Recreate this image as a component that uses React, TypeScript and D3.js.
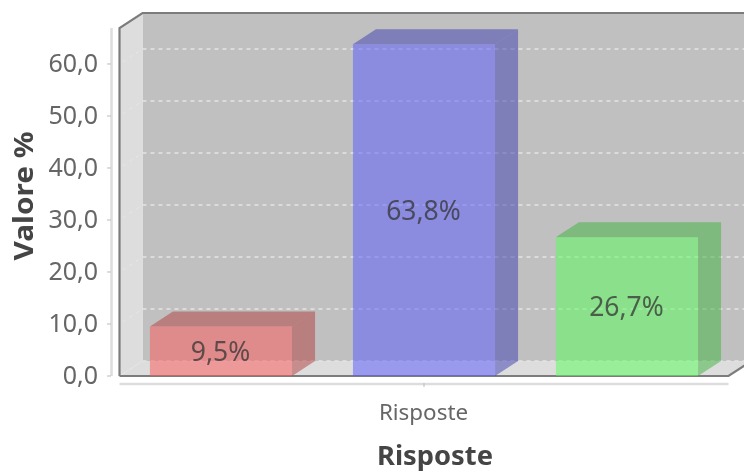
import React from "react";
import * as d3 from "d3";

const seriesNames = ["Serie 1", "Serie 2", "Serie 3"];
const seriesValues = [9.5, 63.8, 26.7];
const valueLabels = ["9,5%", "63,8%", "26,7%"];
const faceColors = ["#ff5555", "#5555ff", "#55ff55"];
const shadeColors = ["#b23b3b", "#3b3bb2", "#3bb23b"];
const yTicks = [0, 10, 20, 30, 40, 50, 60];
const categoryLabel = "Risposte";
const xTitle = "Risposte";
const yTitle = "Valore %";

const W = 744, H = 473;
const left = 119.5, right = 728.5, bottom = 376, top = 28;
const dx = 23, dy = -15;
const font = "'Noto Sans', sans-serif";

const y = d3.scaleLinear().domain([0, 66.92]).range([bottom, top]);
const x = d3.scaleBand<string>().domain(seriesNames).range([left, right]).paddingInner(0.3).paddingOuter(0.15);
const path = (pts: [number, number][]) => d3.line()(pts) + "Z";
const fmt = (v: number) => v.toFixed(1).replace(".", ",");

export default function App() {
  const bw = x.bandwidth();
  return (
    <svg width={W} height={H} style={{ position: "absolute", left: 0, top: 0, background: "#fff" }}>
      <defs>
        <filter id="soft" x="-5%" y="-5%" width="110%" height="110%">
          <feGaussianBlur stdDeviation="0.65" />
        </filter>
      </defs>
      <g filter="url(#soft)">
        {/* walls */}
        <path d={path([[left + dx, top + dy], [right + dx, top + dy], [right + dx, bottom + dy], [left + dx, bottom + dy]])} fill="#c0c0c0" />
        <path d={path([[left, top], [left + dx, top + dy], [left + dx, bottom + dy], [left, bottom]])} fill="#dddddd" />
        <path d={path([[left, bottom], [left + dx, bottom + dy], [right + dx, bottom + dy], [right, bottom]])} fill="#dddddd" />
        {/* grid */}
        {yTicks.map((t) => (
          <g key={t} stroke="#e4e4e4" strokeWidth={1.6} fill="none">
            <line x1={left + dx} x2={right + dx} y1={y(t) + dy} y2={y(t) + dy} strokeDasharray="4 4" />
            <line x1={left + 3} y1={y(t) - 2} x2={left + dx} y2={y(t) + dy} strokeDasharray="4 4" strokeOpacity={0.7} />
          </g>
        ))}
        {/* frame */}
        <path d={d3.line()([[left, bottom], [left, top], [left + dx, top + dy], [right + dx, top + dy]]) as string} fill="none" stroke="#7c7c7c" strokeWidth={2.2} />
        <path d={d3.line()([[left, bottom], [right, bottom], [right + dx, bottom + dy]]) as string} fill="none" stroke="#7c7c7c" strokeWidth={2.2} />
        {/* axes */}
        <line x1={111.5} x2={111.5} y1={top} y2={bottom} stroke="#dddddd" strokeWidth={2.5} />
        <line x1={left} x2={right} y1={384} y2={384} stroke="#dddddd" strokeWidth={2.5} />
        {yTicks.map((t) => (
          <line key={t} x1={107} x2={111} y1={y(t)} y2={y(t)} stroke="#bbbbbb" />
        ))}
        <line x1={424} x2={424} y1={383} y2={387} stroke="#bbbbbb" />
        {/* bars */}
        {seriesNames.map((s, i) => {
          const x0 = x(s)!, x1 = x0 + bw, yT = y(seriesValues[i]), yB = y(0);
          return (
            <g key={s} fillOpacity={0.5}>
              <path d={path([[x0, yT], [x0 + dx, yT + dy], [x1 + dx, yT + dy], [x1, yT]])} fill={shadeColors[i]} />
              <path d={path([[x1, yT], [x1 + dx, yT + dy], [x1 + dx, yB + dy], [x1, yB]])} fill={shadeColors[i]} />
              <path d={path([[x0, yT], [x1, yT], [x1, yB], [x0, yB]])} fill={faceColors[i]} />
            </g>
          );
        })}
        {/* bar labels */}
        {seriesNames.map((s, i) => (
          <text key={s} x={x(s)! + bw / 2 - 0.5} y={(y(seriesValues[i]) + y(0)) / 2 + 9.5} textAnchor="middle"
            fontFamily={font} fontSize={26.5} fill="#333333" fillOpacity={0.75}>{valueLabels[i]}</text>
        ))}
        {/* tick labels */}
        {yTicks.map((t) => (
          <text key={t} x={98} y={y(t) + 8} textAnchor="end" fontFamily={font} fontSize={25} fill="#666666">{fmt(t)}</text>
        ))}
        <text x={423.5} y={420} textAnchor="middle" fontFamily={font} fontSize={22.4} fill="#666666">{categoryLabel}</text>
        <text x={435} y={465} textAnchor="middle" fontFamily={font} fontWeight="bold" fontSize={26} fill="#444444" textLength={116} lengthAdjust="spacingAndGlyphs">{xTitle}</text>
        <text transform="translate(33,196) rotate(-90)" textAnchor="middle" fontFamily={font} fontWeight="bold" fontSize={26} fill="#444444" textLength={129} lengthAdjust="spacingAndGlyphs">{yTitle}</text>
      </g>
    </svg>
  );
}
